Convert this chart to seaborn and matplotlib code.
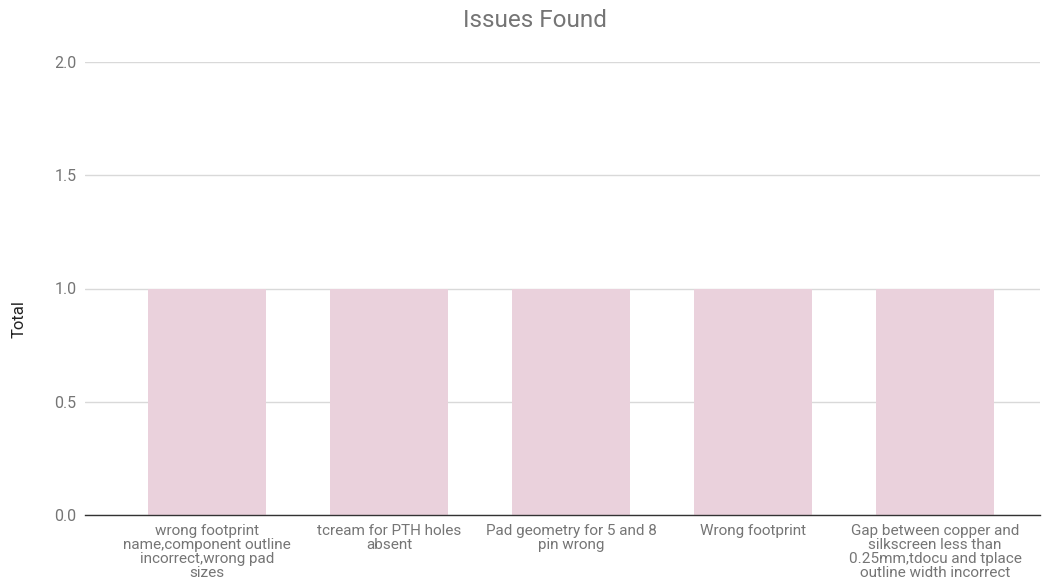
import matplotlib
matplotlib.use("Agg")
import matplotlib.pyplot as plt
import seaborn as sns
import pandas as pd

categories = [
    "wrong footprint\nname,component outline\nincorrect,wrong pad\nsizes",
    "tcream for PTH holes\nabsent",
    "Pad geometry for 5 and 8\npin wrong",
    "Wrong footprint",
    "Gap between copper and\nsilkscreen less than\n0.25mm,tdocu and tplace\noutline width incorrect",
]
totals = [1, 1, 1, 1, 1]
y_ticks = [0.0, 0.5, 1.0, 1.5, 2.0]
title = "Issues Found"
y_label = "Total"

sns.set_theme(style="white")
plt.rcParams["font.family"] = ["Roboto", "DejaVu Sans"]

W, H = 1046, 585
fig = plt.figure(figsize=(W / 100, H / 100), dpi=100)
left, right, top, bottom = 85, 1040, 62, 515
ax = fig.add_axes([left / W, 1 - bottom / H, (right - left) / W, (bottom - top) / H])

df = pd.DataFrame({"cat": categories, "total": totals})
sns.barplot(data=df, x="cat", y="total", color="#ead1dc", saturation=1,
            width=0.648, linewidth=0, edgecolor="none", ax=ax, zorder=2)

ax.set_xlim(-0.670, 4.577)
ax.set_ylim(0, 2.0)
ax.set_yticks(y_ticks)
ax.set_yticklabels([f"{v:.1f}" for v in y_ticks])
ax.grid(axis="y", color="#d9d9d9", linewidth=1.0, zorder=0)
ax.set_axisbelow(True)
for s in ["top", "right", "left"]:
    ax.spines[s].set_visible(False)
ax.spines["bottom"].set_color("#333333")
ax.spines["bottom"].set_linewidth(1.0)
ax.spines["bottom"].set_zorder(3)
ax.tick_params(axis="y", length=0, pad=6, labelsize=11.5, labelcolor="#757575")
ax.tick_params(axis="x", length=0, pad=6.5, labelsize=11, labelcolor="#757575")
for lbl in ax.get_xticklabels():
    lbl.set_linespacing(1.0)
    lbl.set_ha("center")
ax.set_xlabel("")
ax.set_ylabel("")

fig.text(535 / W, 1 - 27 / H, title, ha="center", va="baseline",
         fontsize=17.5, color="#757575")
fig.text(19 / W, 1 - 319 / H, y_label, ha="center", va="center",
         rotation=90, fontsize=12, color="#222222")

fig.savefig("out.png", dpi=100)
